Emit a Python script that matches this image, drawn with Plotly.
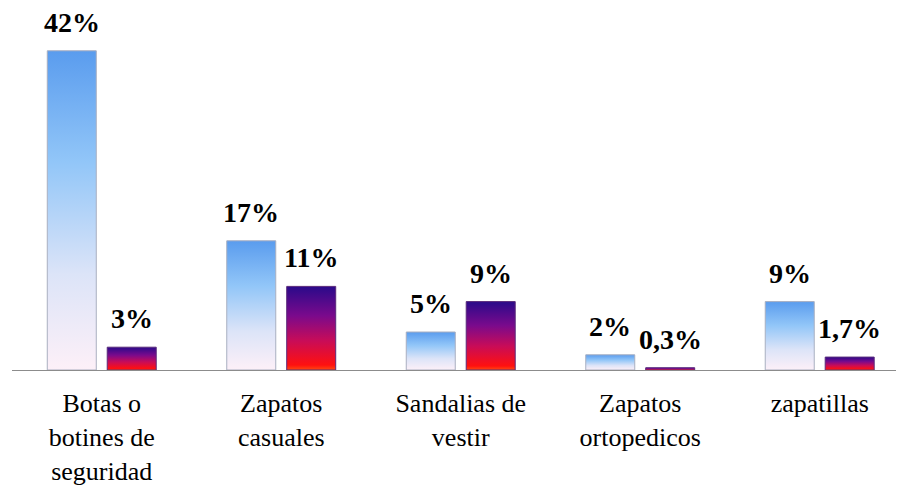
import plotly.graph_objects as go

# Data
categories = ['Botas o<br>botines de<br>seguridad', 'Zapatos<br>casuales',
              'Sandalias de<br>vestir', 'Zapatos<br>ortopedicos', 'zapatillas']
serie_a = [42, 17, 5, 2, 9]
serie_b = [3, 11, 9, 0.3, 1.7]

FONT = 'Liberation Serif'
BAR_W = 0.273   # bar width in category units
OFFSET = 0.167  # distance of each bar centre from the category centre

BLUE_SCALE = [[0, '#fdf0f8'], [0.3, '#dce4f8'], [0.65, '#92c6f8'], [1, '#5a9cee']]
RED_SCALE = [[0, '#ff4a10'], [0.06, '#ff1010'], [0.35, '#c80c58'],
             [0.65, '#7a0a8c'], [1, '#2a0a8a']]


def pct(v):
    return ('%g' % v).replace('.', ',') + '%'


def bar_traces(values, shift, scale, edge):
    traces = []
    for i, v in enumerate(values):
        x0 = i + shift - BAR_W / 2
        x1 = i + shift + BAR_W / 2
        traces.append(
            go.Scatter(x=[x0, x1, x1, x0, x0],
                       y=[0, 0, v, v, 0],
                       mode='lines',
                       fill='toself',
                       fillgradient=dict(type='vertical', colorscale=scale),
                       line=dict(color=edge, width=1),
                       hoverinfo='skip',
                       showlegend=False))
    return traces


def label_annotations(values, shift):
    anns = []
    for i, v in enumerate(values):
        anns.append(dict(x=i + shift, y=v, text='<b>%s</b>' % pct(v),
                         showarrow=False, yanchor='bottom', yshift=11,
                         font=dict(family=FONT, size=28, color='black')))
    return anns


fig = go.Figure()
for t in bar_traces(serie_a, -OFFSET, BLUE_SCALE, '#a9afc0'):
    fig.add_trace(t)
for t in bar_traces(serie_b, OFFSET, RED_SCALE, '#5a2a7a'):
    fig.add_trace(t)

# the page body adds 8px on the left and top, so the figure is 8px smaller
fig.update_layout(
    template='none',
    width=898, height=482,
    margin=dict(l=4, r=10, t=12, b=120, autoexpand=False),
    paper_bgcolor='white', plot_bgcolor='white',
    font=dict(family=FONT, color='black'),
    annotations=label_annotations(serie_a, -OFFSET) + label_annotations(serie_b, OFFSET),
    xaxis=dict(range=[-0.5, 4.425], tickvals=list(range(len(categories))),
               ticktext=categories, showgrid=False, zeroline=False,
               showline=True, linecolor='#8c8c8c', linewidth=1, ticks='',
               ticklabelstandoff=10, automargin=False,
               tickfont=dict(family=FONT, size=26, color='black')),
    yaxis=dict(range=[0, 46.05], visible=False, showgrid=False, zeroline=False),
)

fig.write_html("out.html")
